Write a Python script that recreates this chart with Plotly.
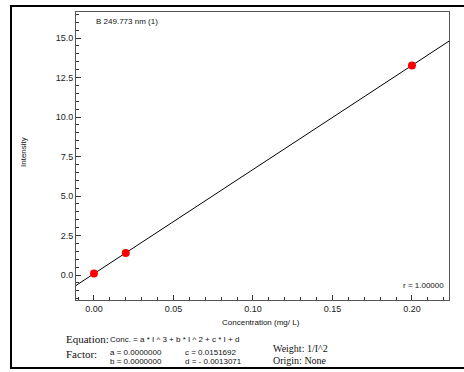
import plotly.graph_objects as go

# Data
conc = [0.00, 0.02, 0.20]
intensity = [0.09, 1.40, 13.27]
coef_c = 0.0151692
coef_d = -0.0013071
x_range = [-0.0113, 0.2233]
y_range = [-1.58, 16.65]

W, H = 464, 372
L, T, R, B = 76, 12, 449, 300


def px(x):
    return (x - L) / (R - L)


def py(y):
    return (B - y) / (B - T)


# regression line: conc = c*I + d  ->  I = (conc - d)/c
line_x = x_range
line_y = [(v - coef_d) / coef_c for v in line_x]

fig = go.Figure()
fig.add_trace(go.Scatter(x=line_x, y=line_y, mode="lines",
                         line=dict(color="black", width=1), hoverinfo="skip"))
fig.add_trace(go.Scatter(x=conc, y=intensity, mode="markers",
                         marker=dict(color="#ff0000", size=8, line=dict(width=0))))

sans = "Liberation Sans, Arial, sans-serif"
serif = "Liberation Serif, Times New Roman, serif"

axis_common = dict(showgrid=False, zeroline=False, showline=True, linecolor="#555555",
                   linewidth=1, mirror=True, ticks="inside", ticklen=5, tickcolor="#333333",
                   tickfont=dict(family=sans, size=9, color="#222222"))

fig.update_layout(
    width=W, height=H,
    margin=dict(l=L, r=W - R, t=T, b=H - B),
    paper_bgcolor="white", plot_bgcolor="white",
    showlegend=False,
    xaxis=dict(range=x_range, dtick=0.05, tick0=0, tickformat=".2f",
               minor=dict(dtick=0.01, ticks="inside", ticklen=3, tickcolor="#333333"),
               **axis_common),
    yaxis=dict(range=y_range, dtick=2.5, tick0=0, tickformat=".1f",
               minor=dict(dtick=0.5, ticks="inside", ticklen=3, tickcolor="#333333"),
               **axis_common),
)

fig.add_shape(type="rect", xref="paper", yref="paper",
              x0=px(11), x1=px(467), y0=py(368), y1=py(6),
              line=dict(color="black", width=2), layer="below")


def ann(text, x, y, size=8, family=sans, xanchor="left", angle=0):
    fig.add_annotation(text=text, xref="paper", yref="paper", x=px(x), y=py(y),
                       xanchor=xanchor, yanchor="middle", showarrow=False,
                       textangle=angle, font=dict(family=family, size=size, color="#111111"))


ann("B 249.773 nm (1)", 94, 21)
ann("r = 1.00000", 446, 285, xanchor="right")
ann("Intensity", 23, 152, xanchor="center", angle=-90)
ann("Concentration (mg/ L)", 261, 322, xanchor="center")
ann("Equation:", 64, 339, size=11, family=serif)
ann("Conc. = a * I ^ 3 + b * I ^ 2 + c * I + d", 108, 339)
ann("Factor:", 64, 354, size=11, family=serif)
ann("a = 0.0000000", 108, 352)
ann("b = 0.0000000", 108, 361)
ann("c = 0.0151692", 183, 352)
ann("d = - 0.0013071", 183, 361)
ann("Weight: 1/I^2", 271, 348, size=10, family=serif)
ann("Origin: None", 271, 360.5, size=10, family=serif)

fig.write_html("out.html")
